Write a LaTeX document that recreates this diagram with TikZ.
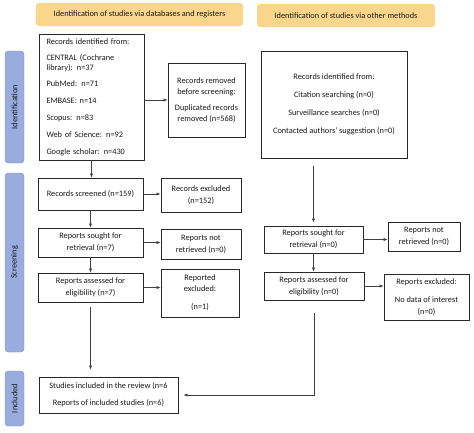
\documentclass[tikz,border=0pt]{standalone}
\usepackage{fontspec}
\setmainfont{Carlito}
\usetikzlibrary{arrows.meta,calc}
\definecolor{hdr}{RGB}{250,213,140}
\definecolor{phase}{RGB}{152,172,222}
\definecolor{edge}{RGB}{40,40,40}
\tikzset{
  base/.style={font=\fontsize{8.3bp}{10bp}\selectfont, text=black!90},
  box/.style={base, draw=edge, line width=0.8bp, align=center, inner sep=2bp},
  hdrbox/.style={base, fill=hdr, rounded corners=3bp, draw=none},
  phasebar/.style={base, fill=phase, draw=phase!85!black, line width=0.3bp, rounded corners=3bp, rotate=90, inner sep=1bp},
  arr/.style={draw=black!75, line width=0.6bp, -{Latex[length=4bp,width=3.2bp]}},
}
\begin{document}
\begin{tikzpicture}[x=1bp,y=-1bp]
\fill[white] (0,0) rectangle (474,432);
\useasboundingbox (0,0) rectangle (474,432);
% headers
\node[hdrbox, minimum width=207bp, minimum height=23bp] (hL) at (139.5,14.5) {Identification of studies via databases and registers};
\node[hdrbox, minimum width=178bp, minimum height=23bp] (hR) at (346,15.5) {Identification of studies via other methods};
% phase bars
\node[phasebar, minimum width=112bp, minimum height=19bp] (pI) at (14.5,107) {Identification};
\node[phasebar, minimum width=179bp, minimum height=19bp] (pS) at (14.5,262.5) {Screening};
\node[phasebar, minimum width=55bp, minimum height=19bp] (pN) at (14.5,398.5) {Included};
% left column
\node[box, align=left, text width=90bp, inner xsep=7.5bp, minimum height=126bp] (id1) at (91.5,97) {Records identified from:\\[6bp] CENTRAL (Cochrane\\ library): n=37\\[6.8bp] PubMed: n=71\\[6.8bp] EMBASE: n=14\\[6.8bp] Scopus: n=83\\[6.8bp] Web of Science: n=92\\[6.8bp] Google scholar: n=430};
\node[box, minimum width=77bp, minimum height=74bp] (rem) at (206.5,100) {Records removed\\[1bp]before screening:\\[6bp]Duplicated records\\[1bp]removed (n=568)};
\node[box, minimum width=105bp, minimum height=32bp] (scr) at (90.5,194) {Records screened (n=159)};
\node[box, minimum width=80bp, minimum height=34bp] (exc) at (201,195) {Records excluded\\[2bp](n=152)};
\node[box, minimum width=105bp, minimum height=29bp] (soL) at (90.5,242.5) {Reports sought for\\[2bp]retrieval (n=7)};
\node[box, minimum width=80bp, minimum height=30bp] (nrL) at (201,244) {Reports not\\[2bp]retrieved (n=0)};
\node[box, minimum width=105bp, minimum height=29bp] (asL) at (90.5,287.5) {Reports assessed for\\[2bp]eligibility (n=7)};
\node[box, minimum width=78bp, minimum height=48bp] (reL) at (200,293) {Reported\\[1bp]excluded:\\[8bp](n=1)};
% right column
\node[box, minimum width=146bp, minimum height=107bp] (id2) at (334,104.5) {Records identified from:\\[8bp]Citation searching (n=0)\\[8bp]Surveillance searches (n=0)\\[8bp]Contacted authors' suggestion (n=0)};
\node[box, minimum width=99bp, minimum height=27bp] (soR) at (313.5,239.5) {Reports sought for\\[2bp]retrieval (n=0)};
\node[box, minimum width=72bp, minimum height=29bp] (nrR) at (424,236.5) {Reports not\\[2bp]retrieved (n=0)};
\node[box, minimum width=100bp, minimum height=28bp] (asR) at (314,286) {Reports assessed for\\[2bp]eligibility (n=0)};
\node[box, minimum width=85bp, minimum height=46bp] (reR) at (426.5,297) {Reports excluded:\\[8bp]No data of interest\\[2bp](n=0)};
% included
\node[box, minimum width=139bp, minimum height=36bp] (inc) at (108.5,395) {Studies included in the review (n=6\\[7bp]Reports of included studies (n=6)};
% connectors
\draw[arr] (id1.south) -- (id1.south |- scr.north);
\draw[arr] (id1.east |- rem.west) -- (rem.west);
\draw[arr] (scr.east) -- (scr.east -| exc.west);
\draw[arr] (scr.south) -- (soL.north);
\draw[arr] (soL.east) -- (soL.east -| nrL.west);
\draw[arr] (soL.south) -- (asL.north);
\draw[arr] (asL.east) -- (asL.east -| reL.west);
\draw[arr, shorten <=5bp, shorten >=7bp] (asL.south) -- (asL.south |- inc.north);
\draw[arr, shorten <=8bp, shorten >=3bp] (soR.north |- id2.south) -- (soR.north);
\draw[arr] (soR.east) -- (soR.east -| nrR.west);
\draw[arr] (soR.south) -- (soR.south |- asR.north);
\draw[arr] (asR.east) -- (asR.east -| reR.west);
\draw[arr, shorten <=13bp, shorten >=5bp] (asR.south) |- (inc.east);
\end{tikzpicture}
\end{document}
